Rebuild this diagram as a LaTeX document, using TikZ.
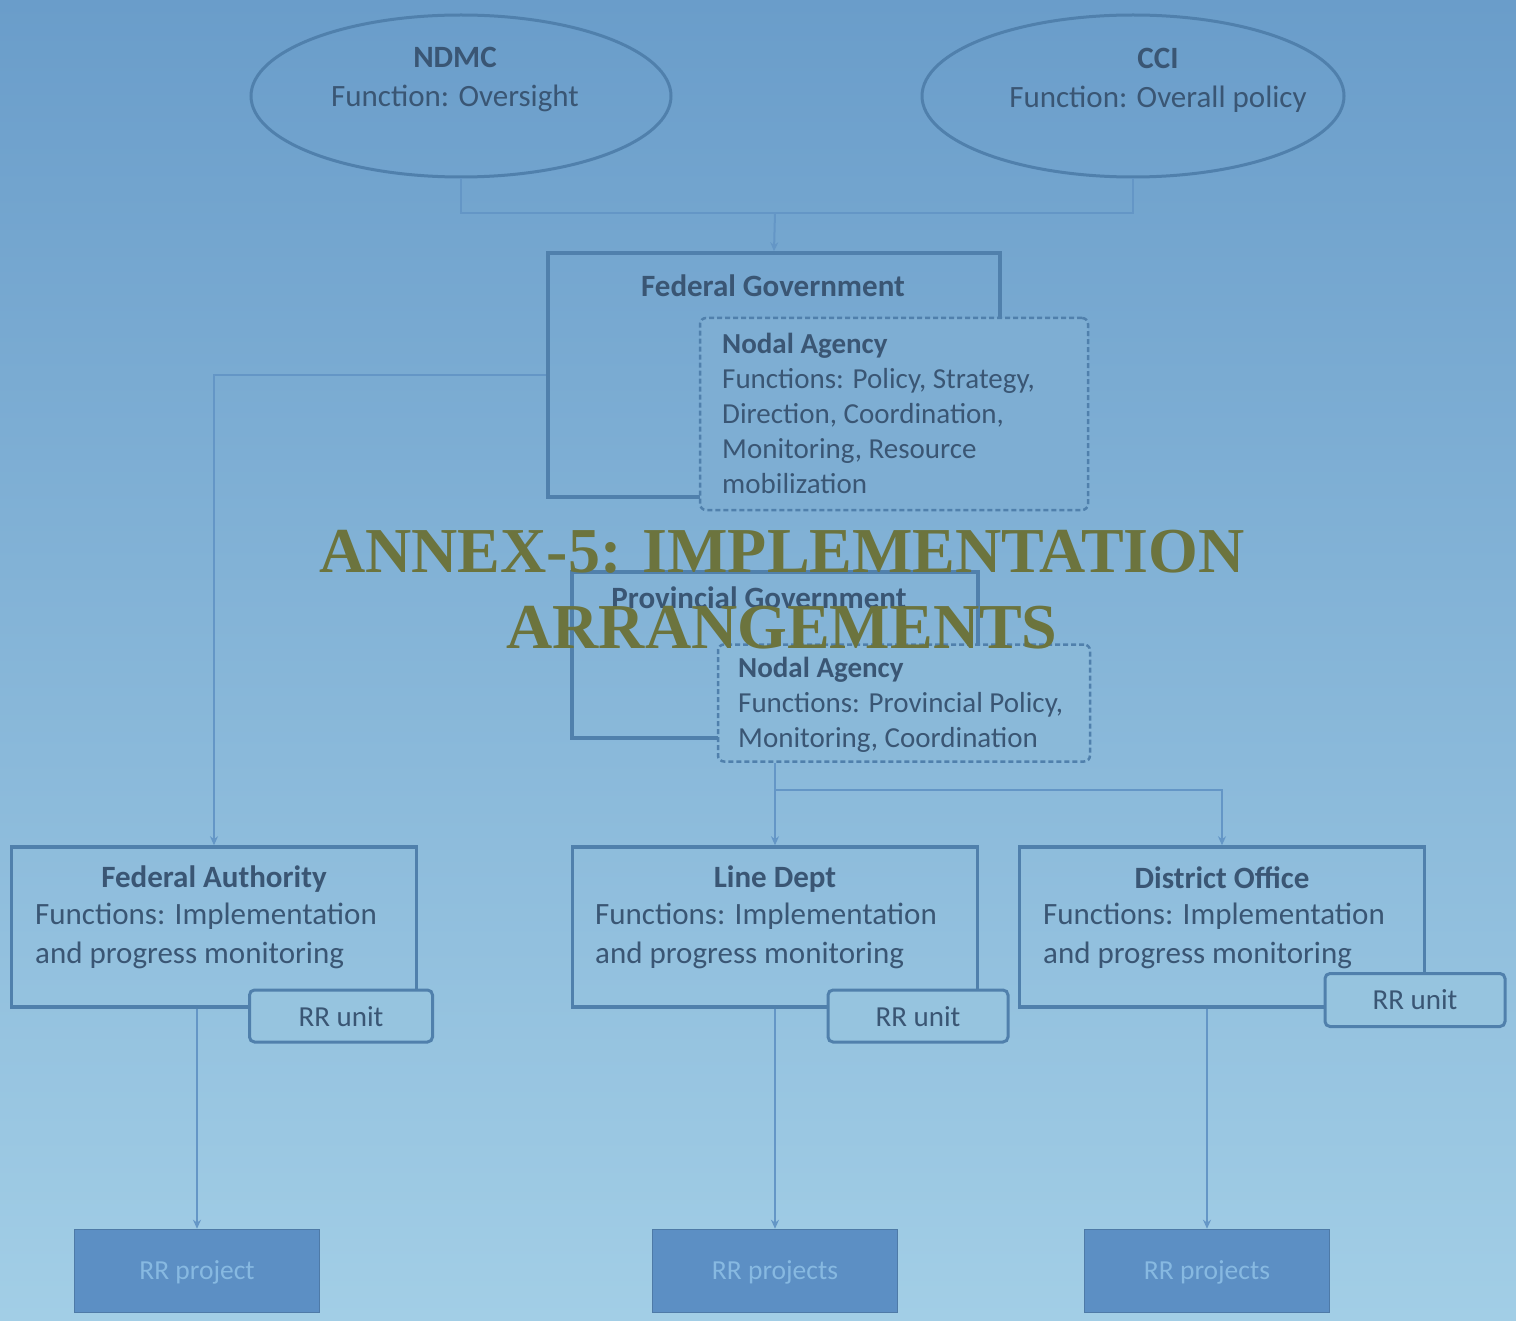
\documentclass[tikz,border=0pt]{standalone}
\usepackage{fontspec}
\setmainfont{Carlito}
\newfontfamily\annexfont{Liberation Serif}
\usetikzlibrary{shapes.geometric,arrows.meta}
\definecolor{bgtop}{RGB}{106,157,202}
\definecolor{bgbot}{RGB}{162,206,230}
\definecolor{edgecol}{RGB}{80,128,172}
\definecolor{conncol}{RGB}{100,150,198}
\definecolor{txtcol}{RGB}{58,86,116}
\definecolor{titlecol}{RGB}{108,116,62}
\definecolor{projfill}{RGB}{92,143,196}
\definecolor{projtxt}{RGB}{135,185,225}
\definecolor{fillA}{RGB}{126,174,211}
\definecolor{fillB}{RGB}{138,185,217}
\definecolor{fillC}{RGB}{150,196,223}
\tikzset{
  ell/.style={ellipse, draw=edgecol, line width=3pt, inner sep=0pt},
  govbox/.style={rectangle, draw=edgecol, line width=3.5pt, inner sep=0pt},
  nodalbox/.style={rectangle, draw=edgecol, line width=2.5pt, dash pattern=on 5pt off 3pt, rounded corners=6pt, inner sep=0pt},
  unitbox/.style={rectangle, draw=edgecol, line width=3pt, rounded corners=5pt, inner sep=0pt},
  projbox/.style={rectangle, fill=projfill, draw=projfill!85!black, line width=1.5pt, inner sep=0pt},
  txt/.style={text=txtcol, font=\fontsize{31}{39}\selectfont, inner sep=0pt},
  unittxt/.style={text=txtcol, font=\fontsize{29}{35}\selectfont, inner sep=0pt},
  projtext/.style={text=projtxt, font=\fontsize{27.5}{32}\selectfont, inner sep=0pt},
  ntxt/.style={text=txtcol, font=\fontsize{29}{35}\selectfont, inner sep=0pt, align=left, anchor=west},
  conn/.style={draw=conncol, line width=2pt},
  arr/.style={conn, -{Stealth[length=9pt,width=8pt]}},
}
\begin{document}
\begin{tikzpicture}[x=1pt,y=-1pt]
\useasboundingbox (0,0) rectangle (1516,1321);
\shade[top color=bgtop, bottom color=bgbot] (0,0) rectangle (1516,1321);

% top ellipses
\node[ell, minimum width=420, minimum height=162] (ndmc) at (461,96) {};
\node[txt, align=center] (ndmct) at (455,80) {\textbf{NDMC}\\Function: Oversight};
\node[ell, minimum width=422, minimum height=162] (cci) at (1133,96) {};
\node[txt, align=center] (ccit) at (1158,80) {\textbf{CCI}\\Function: Overall policy};

% federal government
\node[govbox, minimum width=452, minimum height=244] (fg) at (774,375) {};
\node[txt] (fgt) at (773,286) {\textbf{Federal Government}};
\node[nodalbox, fill=fillA, minimum width=388, minimum height=192] (fn) at (894,414) {};
\node[ntxt] (fnt) at (722,413) {\textbf{Nodal Agency}\\Functions: Policy, Strategy,\\Direction, Coordination,\\Monitoring, Resource\\mobilization};

% provincial government
\node[govbox, minimum width=406, minimum height=166] (pg) at (775,655) {};
\node[txt] (pgt) at (759,598) {\textbf{Provincial Government}};
\node[nodalbox, fill=fillB, minimum width=372, minimum height=117] (pn) at (904,703) {};
\node[ntxt] (pnt) at (738,705) {\textbf{Nodal Agency}\\Functions: Provincial Policy,\\Monitoring, Coordination};

% implementation level
\node[govbox, minimum width=405, minimum height=160] (fa) at (214,927) {};
\node[txt] (fat) at (214,879) {\textbf{Federal Authority}};
\node[txt, align=left, anchor=west] (fab) at (35,936) {Functions: Implementation\\and progress monitoring};
\node[unitbox, fill=fillC, minimum width=183, minimum height=52] (fau) at (341,1016) {};
\node[unittxt] (faut) at (341,1017) {RR unit};

\node[govbox, minimum width=405, minimum height=160] (ld) at (775,927) {};
\node[txt] (ldt) at (775,879) {\textbf{Line Dept}};
\node[txt, align=left, anchor=west] (ldb) at (595,936) {Functions: Implementation\\and progress monitoring};
\node[unitbox, fill=fillC, minimum width=180, minimum height=52] (ldu) at (918,1016) {};
\node[unittxt] (ldut) at (918,1017) {RR unit};

\node[govbox, minimum width=405, minimum height=160] (do) at (1222,927) {};
\node[txt] (dot) at (1222,878) {\textbf{District Office}};
\node[txt, align=left, anchor=west] (dob) at (1043,936) {Functions: Implementation\\and progress monitoring};
\node[unitbox, fill=fillC, minimum width=180, minimum height=53] (dou) at (1415,1000) {};
\node[unittxt] (dout) at (1415,1000) {RR unit};

% projects
\node[projbox, minimum width=245, minimum height=83] (rp1) at (197,1271) {};
\node[projtext] (rp1t) at (197,1272) {RR project};
\node[projbox, minimum width=245, minimum height=83] (rp2) at (775,1271) {};
\node[projtext] (rp2t) at (775,1272) {RR projects};
\node[projbox, minimum width=245, minimum height=83] (rp3) at (1207,1271) {};
\node[projtext] (rp3t) at (1207,1272) {RR projects};

% connectors
\coordinate (topj) at (775,213);
\coordinate (provj) at (775,790);
\draw[conn] (ndmc.south) |- (topj) -| (cci.south);
\draw[arr] (topj) -- (fg.north);
\draw[arr] (fg.west) -| (fa.north);
\draw[conn] (pn.south -| provj) -- (provj);
\draw[arr] (provj) -- (ld.north);
\draw[arr] (provj) -| (do.north);
\draw[arr] (fa.south -| rp1.north) -- (rp1.north);
\draw[arr] (ld.south) -- (rp2.north);
\draw[arr] (do.south -| rp3.north) -- (rp3.north);

% title overlay
\node[text=titlecol, font=\annexfont\fontsize{64}{76}\selectfont\bfseries, align=center, inner sep=0pt] (annex) at (782,590) {ANNEX-5: IMPLEMENTATION\\ARRANGEMENTS};
\end{tikzpicture}
\end{document}
